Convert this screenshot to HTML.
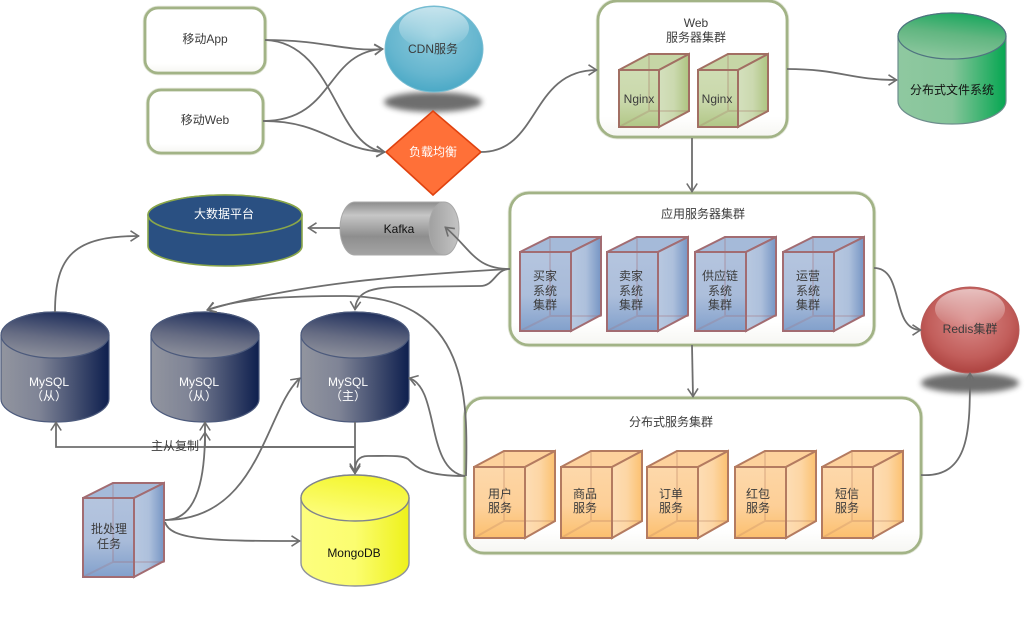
<!DOCTYPE html>
<html><head><meta charset="utf-8"><style>
html,body{margin:0;padding:0;background:#fff}
svg{display:block;filter:blur(.35px)}
text{font-family:"Liberation Sans","Noto Sans CJK SC",sans-serif;font-size:12px;fill:#3c3c3c;text-anchor:middle}
.w{fill:#fff}
.k{fill:#111}
.c{fill:none;stroke:#6e6e6e;stroke-width:1.8;marker-end:url(#a)}
.b{fill:url(#bx);stroke:#a2b386;stroke-width:2.8}
.b2{fill:none;stroke:#b3c09b;stroke-width:4.5;opacity:.4}
</style></head><body>
<svg width="1026" height="630" viewBox="0 0 1026 630" xmlns="http://www.w3.org/2000/svg">
<defs>
<marker id="a" markerUnits="userSpaceOnUse" markerWidth="16" markerHeight="14" refX="11" refY="6" orient="auto" overflow="visible">
<path d="M2.500,0.800 L10.500,6 L2.500,11.200" fill="none" stroke="#6e6e6e" stroke-width="1.6"/>
</marker>
<linearGradient id="bx" x1="0" y1="0" x2="0" y2="1"><stop offset="0" stop-color="#fff"/><stop offset=".85" stop-color="#fff"/><stop offset="1" stop-color="#f6f6f2"/></linearGradient>
<linearGradient id="bF" x1="0" y1="0" x2="0" y2="1"><stop offset="0" stop-color="#b1c2dd"/><stop offset=".55" stop-color="#a8bbd9"/><stop offset="1" stop-color="#7b9bc9"/></linearGradient>
<linearGradient id="bS" x1="0" y1="0" x2="1" y2="0"><stop offset="0" stop-color="#b8c8e0"/><stop offset=".5" stop-color="#adc0dc"/><stop offset="1" stop-color="#7695c4"/></linearGradient>
<linearGradient id="oF" x1="0" y1="0" x2="0" y2="1"><stop offset="0" stop-color="#fdd6a6"/><stop offset=".55" stop-color="#fdcf97"/><stop offset="1" stop-color="#fbbc66"/></linearGradient>
<linearGradient id="oS" x1="0" y1="0" x2="1" y2="0"><stop offset="0" stop-color="#fdddb5"/><stop offset=".5" stop-color="#fdd6a4"/><stop offset="1" stop-color="#fbc170"/></linearGradient>
<linearGradient id="gF" x1="0" y1="0" x2="0" y2="1"><stop offset="0" stop-color="#cddbb0"/><stop offset=".55" stop-color="#c6d6a6"/><stop offset="1" stop-color="#adc480"/></linearGradient>
<linearGradient id="gS" x1="0" y1="0" x2="1" y2="0"><stop offset="0" stop-color="#d4e0bd"/><stop offset=".5" stop-color="#cbd9af"/><stop offset="1" stop-color="#adc480"/></linearGradient>
<linearGradient id="cyGs" x1="0" y1="0" x2="1" y2="0"><stop offset="0" stop-color="#8fc8a0"/><stop offset=".5" stop-color="#86c59a"/><stop offset="1" stop-color="#05a651"/></linearGradient>
<linearGradient id="cyGt" x1=".3" y1="1" x2=".6" y2="0"><stop offset="0" stop-color="#8fc8a0"/><stop offset=".55" stop-color="#62b681"/><stop offset="1" stop-color="#1ba85f"/></linearGradient>
<linearGradient id="cyMs" x1="0" y1="0" x2="1" y2="0"><stop offset="0" stop-color="#92959f"/><stop offset=".35" stop-color="#7f8496"/><stop offset="1" stop-color="#0e1f4e"/></linearGradient>
<linearGradient id="cyMt" x1=".3" y1="1" x2=".6" y2="0"><stop offset="0" stop-color="#8f929d"/><stop offset=".45" stop-color="#666c83"/><stop offset="1" stop-color="#1f2f5c"/></linearGradient>
<linearGradient id="cyYs" x1="0" y1="0" x2="1" y2="0"><stop offset="0" stop-color="#fdfe7e"/><stop offset=".5" stop-color="#fbfd70"/><stop offset="1" stop-color="#eef11a"/></linearGradient>
<linearGradient id="cyYt" x1=".3" y1="1" x2=".7" y2="0"><stop offset="0" stop-color="#fdfe80"/><stop offset="1" stop-color="#f3f52a"/></linearGradient>
<linearGradient id="kaf" x1="0" y1="0" x2="0" y2="1"><stop offset="0" stop-color="#8c8c8c"/><stop offset=".25" stop-color="#c6c6c6"/><stop offset=".65" stop-color="#8e8e8e"/><stop offset="1" stop-color="#a4a4a4"/></linearGradient>
<linearGradient id="kaf2" x1="0" y1="0" x2="1" y2="0"><stop offset="0" stop-color="#a0a0a0"/><stop offset="1" stop-color="#c4c4c4"/></linearGradient>
<radialGradient id="blue" cx=".5" cy=".35" r=".65"><stop offset="0" stop-color="#8ecbdc"/><stop offset=".7" stop-color="#66b6cf"/><stop offset="1" stop-color="#4ba9c6"/></radialGradient>
<radialGradient id="red" cx=".5" cy=".4" r=".6"><stop offset="0" stop-color="#d98a88"/><stop offset=".7" stop-color="#c25e5b"/><stop offset="1" stop-color="#ad4340"/></radialGradient>
<linearGradient id="hl" x1="0" y1="0" x2="0" y2="1"><stop offset="0" stop-color="#fff" stop-opacity=".6"/><stop offset="1" stop-color="#fff" stop-opacity=".02"/></linearGradient>
<filter id="bl" x="-30%" y="-60%" width="160%" height="220%"><feGaussianBlur stdDeviation="3"/></filter>
<g id="cubeB" stroke="#a26c72" stroke-width="2">
<rect x="30" y="0" width="51" height="79" fill="#9fb4d6" stroke-opacity=".35"/>
<path d="M0,15 L30,0 H81 L51,15 Z" fill="#a5bad9"/>
<path d="M51,15 L81,0 V78 L51,94 Z" fill="url(#bS)"/>
<rect x="0" y="15" width="51" height="79" fill="url(#bF)" fill-opacity=".95"/>
<path d="M0,94 L30,79 H81 M30,0 V79" fill="none" stroke-opacity=".25"/>
</g>
<g id="cubeO" stroke="#b47b60" stroke-width="2">
<rect x="30" y="0" width="51" height="70" fill="#fbcf95" stroke-opacity=".35"/>
<path d="M0,16 L30,0 H81 L51,16 Z" fill="#fdd19c"/>
<path d="M51,16 L81,0 V70 L51,87 Z" fill="url(#oS)"/>
<rect x="0" y="16" width="51" height="71" fill="url(#oF)" fill-opacity=".95"/>
<path d="M0,87 L30,70 H81 M30,0 V70" fill="none" stroke-opacity=".25"/>
</g>
<g id="cubeG" stroke="#a26f63" stroke-width="2">
<rect x="30" y="0" width="40" height="57" fill="#c0d19c" stroke-opacity=".35"/>
<path d="M0,16 L30,0 H70 L40,16 Z" fill="#c6d6a6"/>
<path d="M40,16 L70,0 V57 L40,73 Z" fill="url(#gS)"/>
<rect x="0" y="16" width="40" height="57" fill="url(#gF)" fill-opacity=".95"/>
<path d="M0,73 L30,57 H70 M30,0 V57" fill="none" stroke-opacity=".25"/>
</g>
<g id="cylM">
<path d="M0,23 A54,23 0 0 1 108,23 V87 A54,23 0 0 1 0,87 Z" fill="url(#cyMs)" stroke="#4c5a7c" stroke-width="1.200"/>
<ellipse cx="54" cy="23" rx="54" ry="23" fill="url(#cyMt)" stroke="#4c5a7c" stroke-width="1.200"/>
</g>
</defs>

<!-- rounded boxes -->
<rect x="145" y="8" width="120" height="65" rx="13" class="b2"/><rect x="145" y="8" width="120" height="65" rx="13" class="b"/>
<rect x="148" y="90" width="115" height="63" rx="13" class="b2"/><rect x="148" y="90" width="115" height="63" rx="13" class="b"/>
<rect x="598" y="1" width="189" height="136" rx="19" class="b2"/><rect x="598" y="1" width="189" height="136" rx="19" class="b"/>
<rect x="510" y="193" width="364" height="152" rx="19" class="b2"/><rect x="510" y="193" width="364" height="152" rx="19" class="b"/>
<rect x="465" y="398" width="456" height="155" rx="19" class="b2"/><rect x="465" y="398" width="456" height="155" rx="19" class="b"/>

<!-- CDN -->
<ellipse cx="433" cy="102" rx="49" ry="10" fill="#555" opacity=".85" filter="url(#bl)"/>
<ellipse cx="434" cy="49" rx="49" ry="43" fill="url(#blue)" stroke="#79bdd2" stroke-width="1"/>
<ellipse cx="434" cy="28" rx="35" ry="21" fill="url(#hl)"/>
<!-- Diamond -->
<polygon points="386,152 433,111 481,152 433,195" fill="#ff7038" stroke="#e0420f" stroke-width="1.6"/>

<!-- Redis -->
<ellipse cx="970" cy="383" rx="49" ry="10" fill="#555" opacity=".85" filter="url(#bl)"/>
<ellipse cx="970" cy="330" rx="49" ry="43" fill="url(#red)" stroke="#b65a58" stroke-width="1"/>
<ellipse cx="970" cy="309" rx="35" ry="20" fill="url(#hl)"/>

<!-- green cylinder -->
<path d="M898,36 A54,23 0 0 1 1006,36 V101 A54,23 0 0 1 898,101 Z" fill="url(#cyGs)" stroke="#6d8d8c" stroke-width="1.200"/>
<ellipse cx="952" cy="36" rx="54" ry="23" fill="url(#cyGt)" stroke="#4f7480" stroke-width="1.200"/>

<!-- big data -->
<path d="M148,215 A77,20 0 0 1 302,215 V246 A77,20 0 0 1 148,246 Z" fill="#2a5082" stroke="#8aa64a" stroke-width="1.600"/>
<ellipse cx="225" cy="215" rx="77" ry="20" fill="#2a5082" stroke="#8aa64a" stroke-width="1.600"/>

<!-- Kafka -->
<path d="M355,202 H444 V255 H355 A15,26.500 0 0 1 355,202 Z" fill="url(#kaf)" stroke="#a8a8a8" stroke-width="1"/>
<ellipse cx="444" cy="228.500" rx="15" ry="26.500" fill="url(#kaf2)" stroke="#a8a8a8" stroke-width="1"/>

<!-- MySQL -->
<use href="#cylM" x="1" y="312"/>
<use href="#cylM" x="151" y="312"/>
<use href="#cylM" x="301" y="312"/>

<!-- Mongo -->
<path d="M301,498 A54,23 0 0 1 409,498 V563 A54,23 0 0 1 301,563 Z" fill="url(#cyYs)" stroke="#8e929c" stroke-width="1.400"/>
<ellipse cx="355" cy="498" rx="54" ry="23" fill="url(#cyYt)" stroke="#80848c" stroke-width="1.400"/>

<!-- cubes -->
<use href="#cubeG" x="619" y="54"/>
<use href="#cubeG" x="698" y="54"/>
<use href="#cubeB" x="520" y="237"/>
<use href="#cubeB" x="607" y="237"/>
<use href="#cubeB" x="695" y="237"/>
<use href="#cubeB" x="783" y="237"/>
<use href="#cubeB" x="83" y="483"/>
<use href="#cubeO" x="474" y="451"/>
<use href="#cubeO" x="561" y="451"/>
<use href="#cubeO" x="647" y="451"/>
<use href="#cubeO" x="735" y="451"/>
<use href="#cubeO" x="822" y="451"/>

<!-- connectors -->
<path class="c" d="M265,40 C325,40 345,52 383,49"/>
<path class="c" d="M265,40 C335,42 335,148 385,152"/>
<path class="c" d="M263,121 C335,121 325,52 383,49"/>
<path class="c" d="M263,121 C325,121 335,150 385,152"/>
<path class="c" d="M481,152 C540,152 530,70 597,70"/>
<path class="c" d="M787,69 C840,69 850,80 897,80"/>
<path class="c" d="M692,138 V192"/>
<path class="c" d="M692,345 L693,397"/>
<path class="c" d="M874,268 C905,268 890,330 921,330"/>
<path class="c" d="M921,475 C970,478 970,430 970,373"/>
<path class="c" d="M510,269 C475,269 472,250 445,227"/>
<path class="c" d="M510,269 C400,275 290,285 207,310"/>
<path class="c" d="M510,269 C495,269 495,286 480,286 L395,287 C370,288 356,292 355,310"/>
<path class="c" d="M466,476 C468,400 470,296 345,296 C290,296 240,298 207,310"/>
<path class="c" d="M465,476 C425,470 440,388 409,378"/>
<path class="c" d="M465,476 C420,476 415,465 408,459 C402,455 390,456 368,456 C358,456 355,462 355,472"/>
<path class="c" d="M355,422 V474"/>
<path class="c" d="M355,447 H56 V422"/>
<path class="c" d="M355,447 H205 V422"/>
<path class="c" d="M165,520 C200,520 205,470 205,432"/>
<path class="c" d="M165,520 C260,520 265,410 300,378"/>
<path class="c" d="M165,522 C170,540 210,541 300,541"/>
<path class="c" d="M55,312 C55,255 75,236 139,236"/>
<path class="c" d="M340,228 H308"/>

<!-- labels -->
<text x="205" y="43">移动App</text>
<text x="205" y="124">移动Web</text>
<text x="433" y="53">CDN服务</text>
<text x="433" y="156" class="w">负载均衡</text>
<text x="696" y="27">Web</text>
<text x="696" y="41.500">服务器集群</text>
<text x="639" y="103">Nginx</text>
<text x="717" y="103">Nginx</text>
<text x="952" y="94" class="k">分布式文件系统</text>
<text x="703" y="218">应用服务器集群</text>
<text x="545" y="280">买家</text><text x="545" y="295">系统</text><text x="545" y="309">集群</text>
<text x="631" y="280">卖家</text><text x="631" y="295">系统</text><text x="631" y="309">集群</text>
<text x="720" y="280">供应链</text><text x="720" y="295">系统</text><text x="720" y="309">集群</text>
<text x="808" y="280">运营</text><text x="808" y="295">系统</text><text x="808" y="309">集群</text>
<text x="970" y="333">Redis集群</text>
<text x="224" y="218" class="w">大数据平台</text>
<text x="399" y="233" class="k">Kafka</text>
<text x="49" y="386" class="w">MySQL</text><text x="49" y="400" class="w">（从）</text>
<text x="199" y="386" class="w">MySQL</text><text x="199" y="400" class="w">（从）</text>
<text x="348" y="386" class="w">MySQL</text><text x="348" y="400" class="w">（主）</text>
<text x="175" y="450">主从复制</text>
<text x="109" y="533">批处理</text><text x="109" y="548">任务</text>
<text x="354" y="557" class="k">MongoDB</text>
<text x="671" y="426">分布式服务集群</text>
<text x="500" y="498">用户</text><text x="500" y="512">服务</text>
<text x="585" y="498">商品</text><text x="585" y="512">服务</text>
<text x="671" y="498">订单</text><text x="671" y="512">服务</text>
<text x="758" y="498">红包</text><text x="758" y="512">服务</text>
<text x="847" y="498">短信</text><text x="847" y="512">服务</text>
</svg>
</body></html>
